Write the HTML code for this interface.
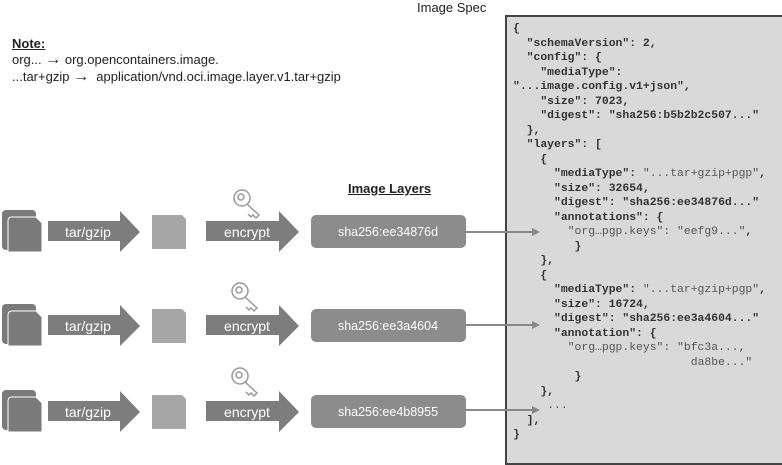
<!DOCTYPE html>
<html><head><meta charset="utf-8"><style>
body{margin:0;width:782px;height:454px;background:#fff;position:relative;overflow:hidden;font-family:"Liberation Sans",sans-serif;color:#222}
.t{position:absolute;white-space:nowrap}
.ar{font-size:16px;line-height:13px}
#spec{position:absolute;left:505px;top:15px;width:290px;height:450px;background:#d9d9d9;border:2px solid #444;box-sizing:border-box}
pre{position:absolute;left:513px;top:22px;margin:0;font-family:"Liberation Mono",monospace;font-size:11.4px;line-height:14.5px;font-weight:bold;color:#333}
pre i{font-style:normal;font-weight:normal;color:#555}
</style></head><body>
<div class="t" style="left:417px;top:0px;font-size:13px">Image Spec</div>
<div class="t" style="left:12px;top:36px;font-size:13px;font-weight:bold;text-decoration:underline">Note:</div>
<div class="t" style="left:12px;top:52px;font-size:13px">org... <span class="ar">→</span> org.opencontainers.image.</div>
<div class="t" style="left:12px;top:69px;font-size:13px">...tar+gzip <span class="ar">→</span>&nbsp; application/vnd.oci.image.layer.v1.tar+gzip</div>
<div class="t" style="left:348px;top:181px;font-size:13px;font-weight:bold;text-decoration:underline">Image Layers</div>
<div id="spec"></div>
<pre>{
  "schemaVersion": 2,
  "config": {
    "mediaType":
"...image.config.v1+json",
    "size": 7023,
    "digest": "sha256:b5b2b2c507..."
  },
  "layers": [
    {
      "mediaType": <i>"...tar+gzip+pgp"</i>,
      "size": 32654,
      "digest": "sha256:ee34876d..."
      "annotations": {
        <i>"org…pgp.keys": "eefg9..."</i>,
         }
    },
    {
      "mediaType": <i>"...tar+gzip+pgp"</i>,
      "size": 16724,
      "digest": "sha256:ee3a4604..."
      "annotation": {
        <i>"org…pgp.keys": "bfc3a...,</i>
                          <i>da8be..."</i>
         }
    },
     <i>...</i>
  ],
}</pre>
<svg width="782" height="454" style="position:absolute;left:0;top:0">
<defs>
<g id="row">
  <rect x="2" y="-22" width="34" height="40" rx="4" fill="#7a7a7a"/>
  <path d="M12,-15 L36,-15 L42,-9 L42,20 L8,20 L8,-11 Q8,-15 12,-15 Z" fill="#7a7a7a" stroke="#fff" stroke-width="1"/>
  <polygon points="48,-11 120,-11 120,-21 140,0 120,20 120,9 48,9" fill="#7d7d7d"/>
  <polygon points="152,-17 182,-17 186,-13 186,17 152,17" fill="#a6a6a6"/>
  <polygon points="206,-11 279,-11 279,-21 299,0 279,20 279,9 206,9" fill="#7d7d7d"/>
  <rect x="311" y="-17" width="155" height="33" rx="5" fill="#8c8c8c"/>
</g>
<g id="key" fill="#fff" stroke="#999" stroke-width="1.5">
  <circle cx="0" cy="0" r="8"/><circle cx="-1" cy="-1" r="3"/>
  <path d="M5,6 L17,17 L14,20 L11,17 L9,19 L6,16"/>
</g>
</defs>
<use href="#row" y="232"/><use href="#row" y="326"/><use href="#row" y="412"/>
<use href="#key" x="242" y="198"/><use href="#key" x="240" y="291"/><use href="#key" x="240" y="376"/>
<g font-family="Liberation Sans,sans-serif" font-size="14" fill="#fff" text-anchor="middle">
<text x="88" y="237">tar/gzip</text><text x="88" y="331">tar/gzip</text><text x="88" y="417">tar/gzip</text>
<text x="247" y="237">encrypt</text><text x="247" y="331">encrypt</text><text x="247" y="417">encrypt</text>
<text x="388" y="236" font-size="12.5">sha256:ee34876d</text>
<text x="388" y="330" font-size="12.5">sha256:ee3a4604</text>
<text x="388" y="416" font-size="12.5">sha256:ee4b8955</text>
</g>
<g stroke="#888" stroke-width="2" fill="#888">
<line x1="466" y1="232" x2="532" y2="232"/><polygon points="532,228 540,232 532,236" stroke="none"/>
<line x1="466" y1="325" x2="532" y2="325"/><polygon points="532,321 540,325 532,329" stroke="none"/>
<line x1="466" y1="410" x2="532" y2="410"/><polygon points="532,406 540,410 532,414" stroke="none"/>
</g>
</svg>
</body></html>
